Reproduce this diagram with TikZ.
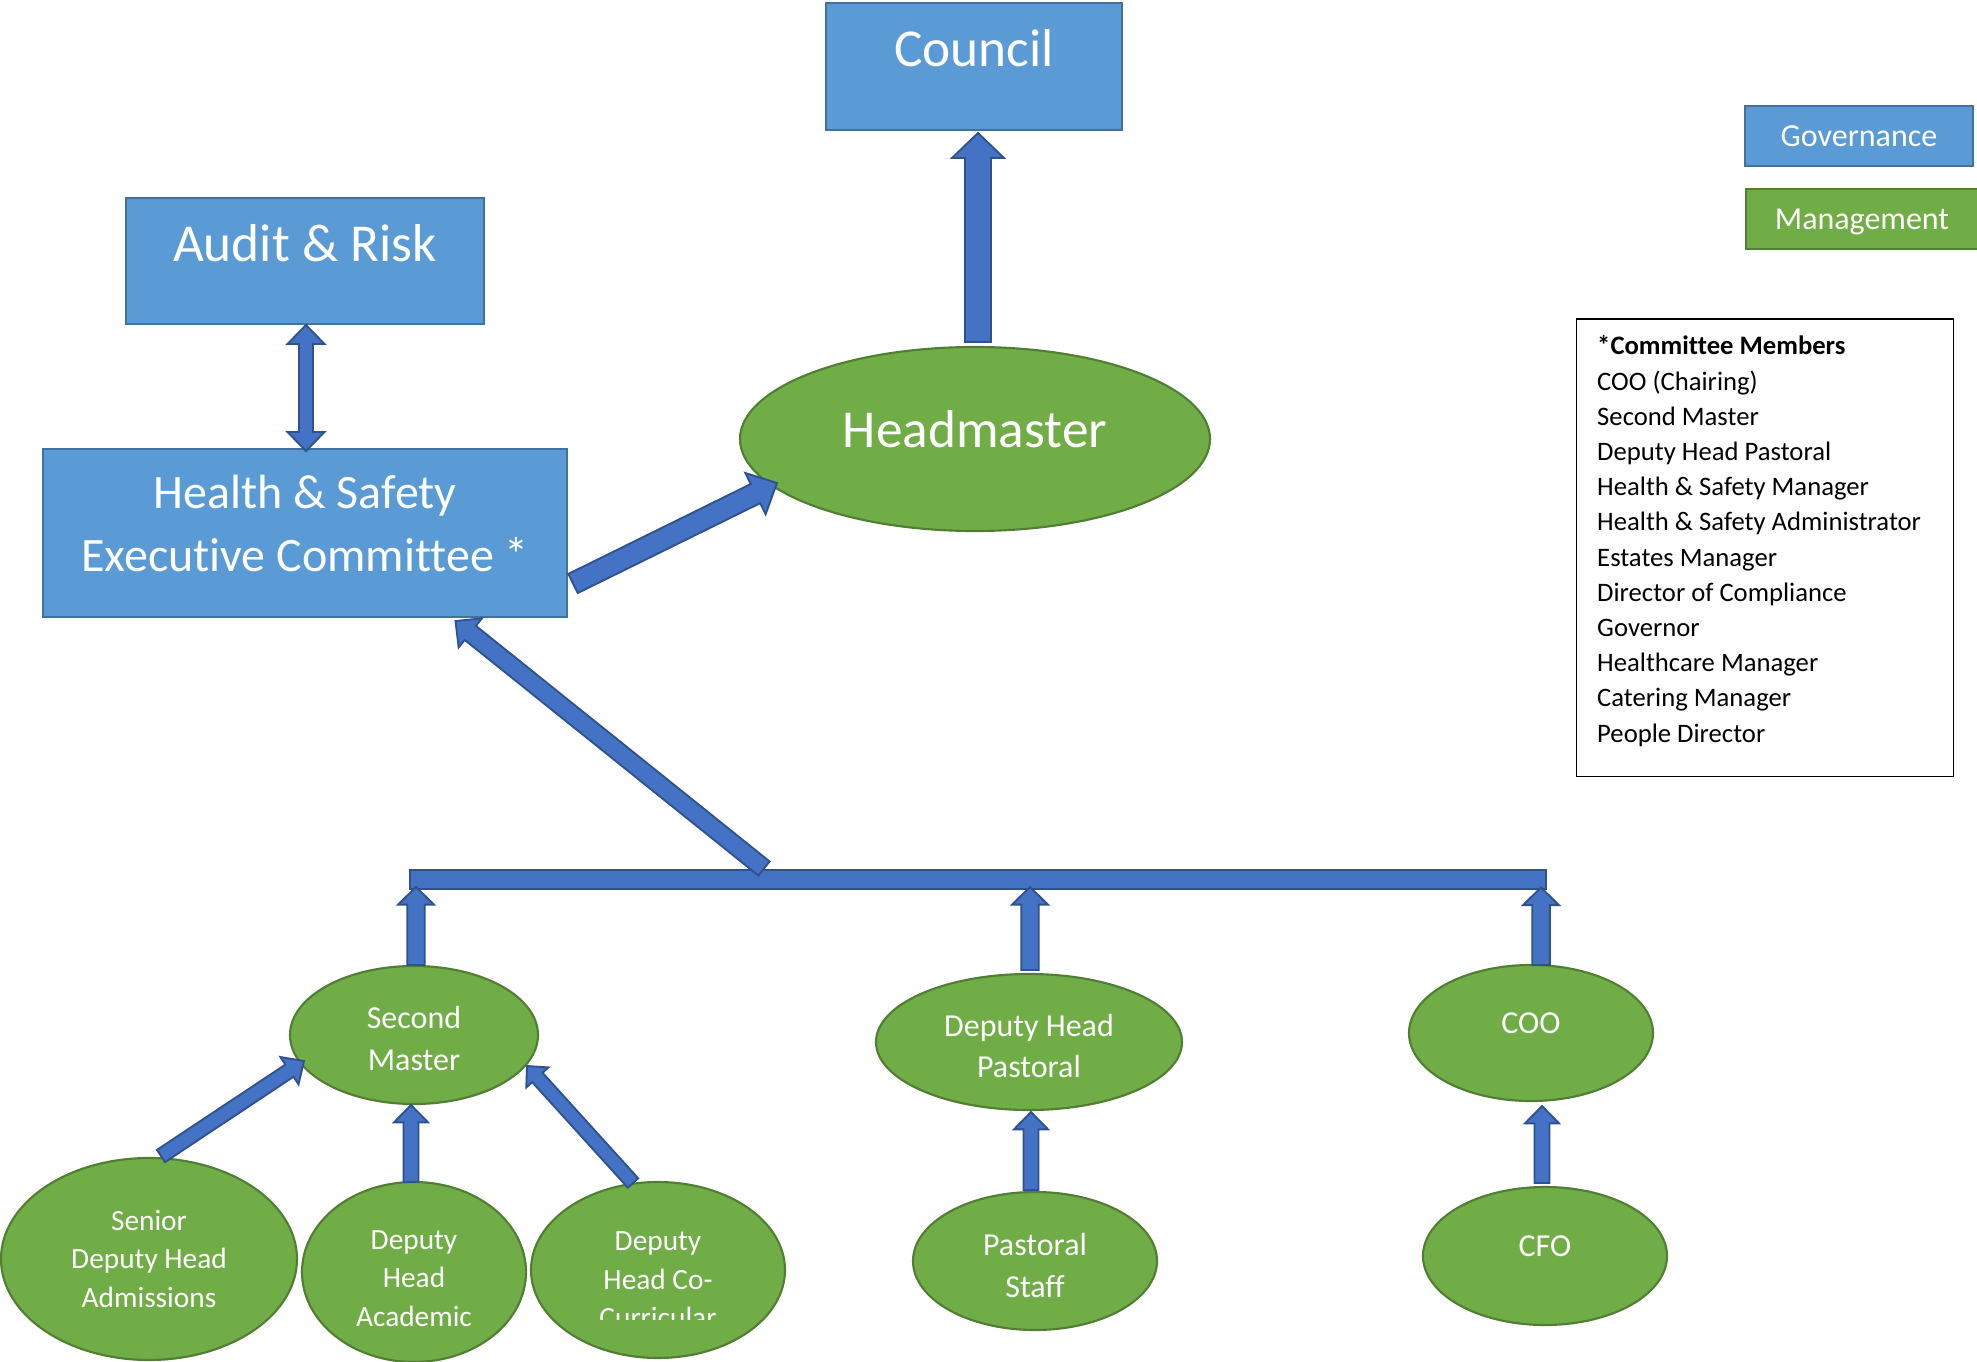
\documentclass[tikz,border=0pt]{standalone}
\usepackage{fontspec}
\setmainfont[Ligatures=NoCommon]{Carlito}
\usetikzlibrary{calc,shapes.geometric}
\definecolor{govfill}{HTML}{5B9BD5}
\definecolor{govline}{HTML}{41719C}
\definecolor{mgfill}{HTML}{70AD47}
\definecolor{mgline}{HTML}{507E32}
\definecolor{arrfill}{HTML}{4472C4}
\definecolor{arrline}{HTML}{2F528F}
\tikzset{
  govbox/.style={rectangle, fill=govfill, draw=govline, line width=1.9pt, inner sep=0pt},
  mgbox/.style={rectangle, fill=mgfill, draw=mgline, line width=1.9pt, inner sep=0pt},
  mgell/.style={ellipse, fill=mgfill, draw=mgline, line width=1.6pt, inner sep=0pt},
  lbl/.style={text=white, align=center, inner sep=0pt},
  arrowbox/.style={fill=arrfill, draw=arrline, line width=1.4pt, line join=miter},
  bigfont/.style={font=\fontsize{40}{48}\selectfont},
  midfont/.style={font=\fontsize{24}{31}\selectfont},
  smallfont/.style={font=\fontsize{22}{29}\selectfont},
}
% #1 from, #2 to, #3 half shaft width, #4 half head width, #5 head length
\newcommand\blockarrow[5]{%
  \path ($(#2)!#5!(#1)$) coordinate (ba-h);
  \draw[arrowbox] ($(#1)!#3!90:(#2)$) -- ($(ba-h)!#3!-90:(#1)$) -- ($(ba-h)!#4!-90:(#1)$) -- (#2)
    -- ($(ba-h)!#4!90:(#1)$) -- ($(ba-h)!#3!90:(#1)$) -- ($(#1)!#3!-90:(#2)$) -- cycle;
}
\newcommand\dblarrow[5]{%
  \path ($(#1)!#5!(#2)$) coordinate (da-a) ($(#2)!#5!(#1)$) coordinate (da-b);
  \draw[arrowbox] (#1) -- ($(da-a)!#4!90:(#2)$) -- ($(da-a)!#3!90:(#2)$) -- ($(da-b)!#3!-90:(#1)$)
    -- ($(da-b)!#4!-90:(#1)$) -- (#2) -- ($(da-b)!#4!90:(#1)$) -- ($(da-b)!#3!90:(#1)$)
    -- ($(da-a)!#3!-90:(#2)$) -- ($(da-a)!#4!-90:(#2)$) -- cycle;
}
\begin{document}
\begin{tikzpicture}[x=0.75pt,y=-0.75pt]
\useasboundingbox (0,0) rectangle (1977,1362);

% governance boxes
\node[govbox, minimum width=222pt, minimum height=95.25pt] (council) at (974,66.5) {};
\node[lbl, bigfont] (council-t) at ($(council.center)+(0,-18.5)$) {Council};
\node[govbox, minimum width=268.5pt, minimum height=94.5pt] (audit) at (305,261) {};
\node[lbl, bigfont] (audit-t) at ($(audit.center)+(0,-18)$) {Audit \& Risk};
\node[govbox, minimum width=393pt, minimum height=126pt] (hs) at (305,533) {};
\node[lbl, font=\fontsize{36}{47}\selectfont] (hs-t) at ($(hs.center)+(0,-9.5)$) {Health \& Safety\\Executive Committee *};

% legend
\node[govbox, minimum width=171pt, minimum height=45pt] (leg-gov) at (1859,136) {};
\node[lbl, font=\fontsize{24}{29}\selectfont] (leg-gov-t) at (leg-gov.center) {Governance};
\node[mgbox, minimum width=177pt, minimum height=45pt] (leg-mg) at (1864,219) {};
\node[lbl, font=\fontsize{24}{29}\selectfont] (leg-mg-t) at (1862,222) {Management};

% committee members
\node[rectangle, draw=black, line width=0.8pt, minimum width=282.4pt, minimum height=343.1pt, inner sep=0pt] (cm) at (1764.75,547.75) {};
\node[anchor=north west, align=left, inner sep=0pt, font=\fontsize{20}{26.4}\selectfont] (cm-t) at ($(cm.north west)+(21,17)$)
  {\textbf{*Committee Members}\\COO (Chairing)\\Second Master\\Deputy Head Pastoral\\Health \& Safety Manager\\Health \& Safety Administrator\\Estates Manager\\Director of Compliance\\Governor\\Healthcare Manager\\Catering Manager\\People Director};

% management ellipses
\node[mgell, minimum width=352.5pt, minimum height=138pt] (hm) at (975,439) {};
\node[lbl, bigfont] (hm-t) at ($(hm.center)+(0,-10)$) {Headmaster};
\node[mgell, minimum width=186pt, minimum height=103.5pt] (sm) at (414,1035) {};
\node[lbl, midfont] (sm-t) at ($(sm.center)+(0,3.5)$) {Second\\Master};
\node[mgell, minimum width=229.5pt, minimum height=102pt] (dhp) at (1029,1042) {};
\node[lbl, midfont] (dhp-t) at ($(dhp.center)+(0,4)$) {Deputy Head\\Pastoral};
\node[mgell, minimum width=183pt, minimum height=102pt] (coo) at (1531,1033) {};
\node[lbl, midfont] (coo-t) at ($(coo.center)+(0,-10)$) {COO};
\node[mgell, minimum width=183pt, minimum height=103.5pt] (ps) at (1035,1261) {};
\node[lbl, midfont] (ps-t) at ($(ps.center)+(0,4.5)$) {Pastoral\\Staff};
\node[mgell, minimum width=183pt, minimum height=103.5pt] (cfo) at (1545,1256) {};
\node[lbl, midfont] (cfo-t) at ($(cfo.center)+(0,-10)$) {CFO};
\node[mgell, minimum width=222pt, minimum height=151.5pt] (sdha) at (149,1259) {};
\node[lbl, smallfont] (sdha-t) at (sdha.center) {Senior\\Deputy Head\\Admissions};
\node[mgell, minimum width=168pt, minimum height=135pt] (dha) at (414,1272) {};
\node[lbl, smallfont] (dha-t) at ($(dha.center)+(0,6.5)$) {Deputy\\Head\\Academic};
\node[mgell, minimum width=190.5pt, minimum height=132pt] (dhcc) at (658,1270) {};
\begin{scope}
  \clip (520,1180) rectangle (800,1319);
  \node[lbl, smallfont] (dhcc-t) at ($(dhcc.center)+(0,10)$) {Deputy\\Head Co-\\Curricular};
\end{scope}

% horizontal bar
\node[rectangle, fill=arrfill, draw=arrline, line width=1.4pt, minimum width=852pt, minimum height=14.25pt, inner sep=0pt] (bar) at (978,879.5) {};

% connector end points
\coordinate (c1a) at ($(hm.center)+(3,-97)$);
\coordinate (c1b) at ($(council.center)+(4,66.5)$);
\coordinate (c2a) at ($(audit.center)+(1,64)$);
\coordinate (c2b) at ($(hs.center)+(1,-82)$);
\coordinate (c3a) at ($(hs.center)+(268,50.5)$);
\coordinate (c3b) at ($(hm.center)+(-198,44)$);
\coordinate (c4a) at ($(bar.center)+(-214,-11)$);
\coordinate (c4b) at ($(hs.center)+(150.5,88)$);
\coordinate (c5a) at ($(sm.center)+(2,-70)$);
\coordinate (c5b) at ($(bar.center)+(-562,7.5)$);
\coordinate (c6a) at ($(dhp.center)+(1,-72)$);
\coordinate (c6b) at ($(bar.center)+(52,7.5)$);
\coordinate (c7a) at ($(coo.center)+(10,-68)$);
\coordinate (c7b) at ($(bar.center)+(563,8)$);
\coordinate (c8a) at ($(ps.center)+(-4,-71)$);
\coordinate (c8b) at ($(dhp.center)+(2,70)$);
\coordinate (c9a) at ($(cfo.center)+(-3,-73)$);
\coordinate (c9b) at ($(coo.center)+(11,73)$);
\coordinate (c10a) at ($(dha.center)+(-3,-90)$);
\coordinate (c10b) at ($(sm.center)+(-3,70)$);
\coordinate (c11a) at ($(sdha.center)+(12,-103)$);
\coordinate (c11b) at ($(sm.center)+(-110,26)$);
\coordinate (c12a) at ($(dhcc.center)+(-25,-87)$);
\coordinate (c12b) at ($(sm.center)+(113,31)$);

% connectors
\blockarrow{c1a}{c1b}{9.75pt}{19.5pt}{18.75pt}
\dblarrow{c2a}{c2b}{5.25pt}{13.9pt}{14.25pt}
\blockarrow{c3a}{c3b}{8pt}{17.25pt}{18pt}
\blockarrow{c4a}{c4b}{6.75pt}{14pt}{14.25pt}
\blockarrow{c5a}{c5b}{6.6pt}{13.5pt}{13.2pt}
\blockarrow{c6a}{c6b}{6.6pt}{13.5pt}{13.2pt}
\blockarrow{c7a}{c7b}{6.6pt}{13.5pt}{13.2pt}
\blockarrow{c8a}{c8b}{5.6pt}{12.75pt}{13pt}
\blockarrow{c9a}{c9b}{5.6pt}{12.75pt}{13pt}
\blockarrow{c10a}{c10b}{5.6pt}{12.75pt}{13pt}
\blockarrow{c11a}{c11b}{5.5pt}{12.3pt}{13.1pt}
\blockarrow{c12a}{c12b}{5.25pt}{11.25pt}{11.6pt}
\end{tikzpicture}
\end{document}
